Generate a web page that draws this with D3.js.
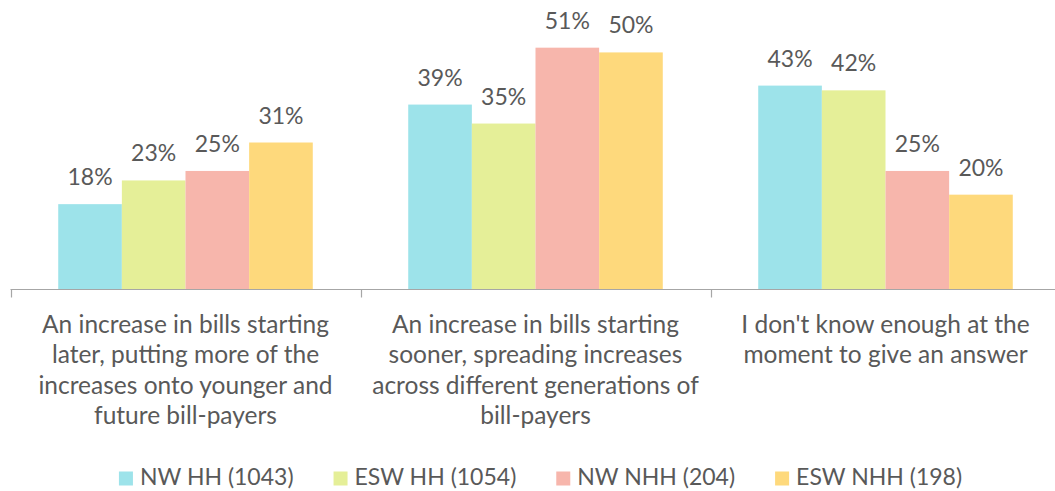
<!DOCTYPE html>
<html>
<head>
<meta charset="utf-8">
<script src="https://cdn.jsdelivr.net/npm/d3@7"></script>
<style>
  html, body { margin: 0; padding: 0; background: #ffffff; }
  svg { display: block; }
  text { font-family: Lato, "Open Sans", sans-serif; fill: #595959; }
</style>
</head>
<body>
<svg id="chart" width="1055" height="491"></svg>
<script>
// Answer options (category axis), one line per array entry
const categories = [
  ["An increase in bills starting", "later, putting more of the", "increases onto younger and", "future bill-payers"],
  ["An increase in bills starting", "sooner, spreading increases", "across different generations of", "bill-payers"],
  ["I don't know enough at the", "moment to give an answer"]
];
const seriesNames = ["NW HH (1043)", "ESW HH (1054)", "NW NHH (204)", "ESW NHH (198)"];
const seriesColors = ["#9de3ea", "#e5ef98", "#f7b6ac", "#fed97c"];

// Percentages per series, in category order
const nwHH   = [18, 39, 43];
const eswHH  = [23, 35, 42];
const nwNHH  = [25, 51, 25];
const eswNHH = [31, 50, 20];
const seriesValues = [nwHH, eswHH, nwNHH, eswNHH];

const svg = d3.select("#chart");

const catIds = categories.map((_, i) => i);
const x0 = d3.scaleBand().domain(catIds).range([10.5, 1060.5]).padding(0);
const x1 = d3.scaleBand().domain(d3.range(seriesNames.length))
  .range([0, x0.bandwidth()]).paddingInner(0).paddingOuter(0.75);
const y = d3.scaleLinear().domain([0, 60]).range([289.5, 5]);

// Bars
const groups = svg.append("g").selectAll("g")
  .data(catIds).join("g")
  .attr("transform", c => `translate(${x0(c)},0)`);

groups.selectAll("rect")
  .data(c => seriesValues.map((vals, s) => ({ s, v: vals[c] })))
  .join("rect")
  .attr("x", d => x1(d.s))
  .attr("width", x1.bandwidth())
  .attr("y", d => y(d.v))
  .attr("height", d => y(0) - y(d.v))
  .attr("fill", d => seriesColors[d.s]);

// Value labels
groups.selectAll("text.val")
  .data(c => seriesValues.map((vals, s) => ({ s, v: vals[c] })))
  .join("text")
  .attr("class", "val")
  .attr("x", d => x1(d.s) + x1.bandwidth() / 2)
  .attr("y", d => y(d.v) - 19)
  .attr("text-anchor", "middle")
  .style("font-size", "23px")
  .text(d => d.v + "%");

// Category axis with boundary ticks
const axisG = svg.append("g");
axisG.append("line")
  .attr("x1", x0.range()[0]).attr("x2", x0.range()[1])
  .attr("y1", y(0)).attr("y2", y(0))
  .attr("stroke", "#a6a6a6").attr("stroke-width", 1.2);
const boundaries = catIds.map(c => x0(c)).concat([x0.range()[1]]);
axisG.selectAll("line.tick")
  .data(boundaries).join("line")
  .attr("class", "tick")
  .attr("x1", d => Math.round(d) + 0.5).attr("x2", d => Math.round(d) + 0.5)
  .attr("y1", y(0)).attr("y2", y(0) + 8)
  .attr("stroke", "#a6a6a6").attr("stroke-width", 1.2);

// Category labels
const catLabels = svg.append("g").selectAll("text")
  .data(catIds).join("text")
  .attr("x", c => x0(c) + x0.bandwidth() / 2)
  .attr("y", 333)
  .attr("text-anchor", "middle")
  .style("font-size", "24.5px");
catLabels.selectAll("tspan")
  .data(c => categories[c])
  .join("tspan")
  .attr("x", function () { return d3.select(this.parentNode).attr("x"); })
  .attr("dy", (d, i) => i === 0 ? 0 : 30.3)
  .text(d => d);

// Legend
const legend = svg.append("g");
const items = legend.selectAll("g").data(seriesNames).join("g");
items.append("rect")
  .attr("width", 14).attr("height", 14)
  .attr("y", 471.5)
  .attr("fill", (d, i) => seriesColors[i]);
items.append("text")
  .attr("x", 21).attr("y", 485)
  .style("font-size", "23px")
  .text(d => d);
let widths = [];
items.each(function () { widths.push(21 + this.querySelector("text").getComputedTextLength()); });
const gap = 40;
const total = d3.sum(widths) + gap * (widths.length - 1);
let cursor = 540.5 - total / 2;
items.attr("transform", (d, i) => {
  const t = `translate(${cursor},0)`;
  cursor += widths[i] + gap;
  return t;
});
</script>
</body>
</html>
